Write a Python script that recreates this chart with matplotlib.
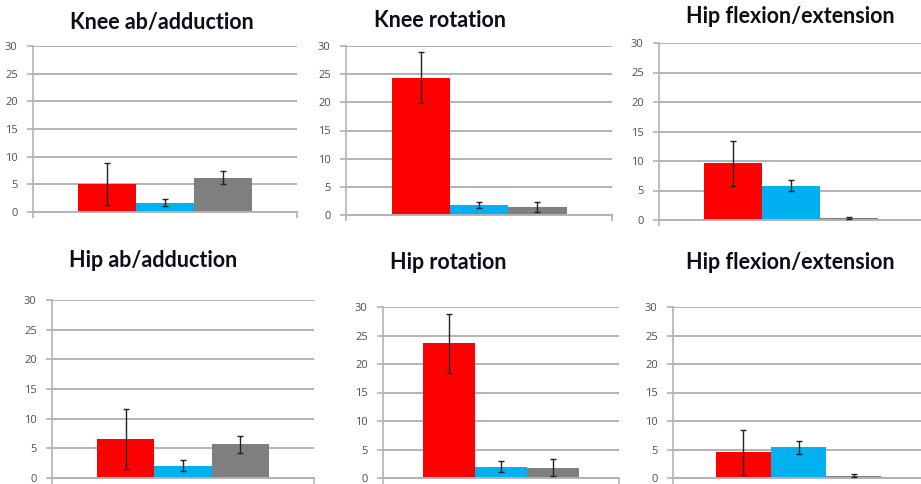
import matplotlib
matplotlib.use('Agg')
import matplotlib.pyplot as plt

titles = ['Knee ab/adduction', 'Knee rotation', 'Hip flexion/extension',
          'Hip ab/adduction', 'Hip rotation', 'Hip flexion/extension']
red_vals = [5.0, 24.4, 9.6, 6.6, 23.6, 4.5]
red_errs = [3.8, 4.5, 3.8, 5.1, 5.1, 3.9]
blue_vals = [1.7, 1.8, 5.8, 2.1, 2.0, 5.4]
blue_errs = [0.6, 0.55, 0.9, 1.0, 1.0, 1.15]
gray_vals = [6.2, 1.4, 0.3, 5.7, 1.8, 0.4]
gray_errs = [1.2, 0.9, 0.15, 1.45, 1.5, 0.25]
yticks = [0, 5, 10, 15, 20, 25, 30]

W, H = 921, 484
# plot area boxes in pixels: left, right, top, bottom
boxes = [(33, 297, 46, 212), (346, 612, 46, 215), (659, 923, 43, 220),
         (52, 314, 300, 478), (383, 619, 307, 478), (673, 924, 307, 478)]
# title centre x and baseline y in pixels
title_pos = [(162, 29), (440, 27), (790, 23), (153, 267), (448, 269), (790, 269)]

colors = ['#ff0000', '#00b0f0', '#7f7f7f']
grid_c = '#b3b3b3'

fig = plt.figure(figsize=(W / 100, H / 100), dpi=100)

for i in range(6):
    l, r, t, b = boxes[i]
    ax = fig.add_axes([l / W, 1 - b / H, (r - l) / W, (b - t) / H])
    vals = [red_vals[i], blue_vals[i], gray_vals[i]]
    errs = [red_errs[i], blue_errs[i], gray_errs[i]]
    ax.bar([-1, 0, 1], vals, width=1.0, color=colors, zorder=2)
    ax.errorbar([-1, 0, 1], vals, yerr=errs, fmt='none', ecolor='#222222',
                elinewidth=1, capsize=2.5, capthick=1, zorder=3)
    ax.set_xlim(-2.28, 2.28)
    ax.set_ylim(0, 30)
    ax.set_yticks(yticks)
    ax.set_xticks([-2.28, 2.28])
    ax.set_xticklabels(['', ''])
    ax.grid(axis='y', color=grid_c, linewidth=1.4, zorder=0)
    for s in ['top', 'right']:
        ax.spines[s].set_visible(False)
    ax.spines['left'].set_color(grid_c)
    ax.spines['bottom'].set_color(grid_c)
    ax.spines['left'].set_linewidth(1.2)
    ax.spines['bottom'].set_linewidth(1.4)
    ax.tick_params(axis='y', length=4, width=1.2, color=grid_c, pad=7,
                   labelsize=8, labelcolor='#505050')
    ax.tick_params(axis='x', length=4, width=1.2, color=grid_c)
    for lab in ax.get_yticklabels():
        lab.set_fontfamily('Open Sans')
    ax.set_facecolor('white')
    tx, ty = title_pos[i]
    fig.text(tx / W, 1 - ty / H, titles[i], ha='center', va='baseline',
             fontsize=15.5, fontweight='bold', family='Lato', color='#0d0d1a')

fig.savefig('out.png', dpi=100)
